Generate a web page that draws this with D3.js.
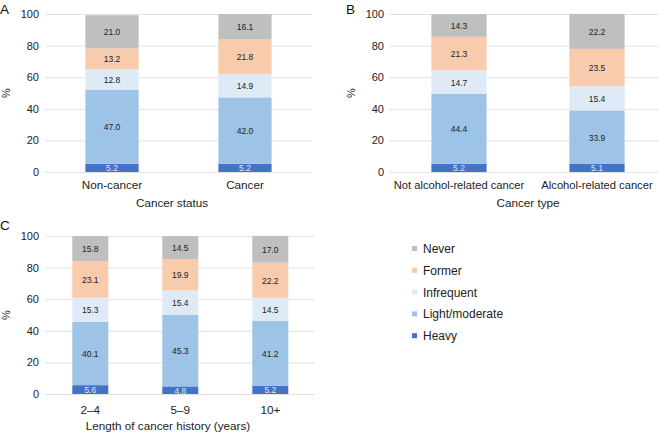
<!DOCTYPE html>
<html>
<head>
<meta charset="utf-8">
<script src="https://cdn.jsdelivr.net/npm/d3@7"></script>
<style>
  body { margin: 0; background: #fff; }
  svg { font-family: "Liberation Sans", Arial, Helvetica, sans-serif; }
  .tick-label { font-size: 11px; fill: #222; }
  .val { font-size: 8.5px; text-anchor: middle; dominant-baseline: central; }
</style>
</head>
<body>
<svg id="chart" width="668" height="435"></svg>
<script>
const levels = ["Heavy", "Light/moderate", "Infrequent", "Former", "Never"];
const colors = ["#4472c4", "#9dc3e6", "#deebf7", "#f8cbad", "#bfbfbf"];
const legendOrder = ["Never", "Former", "Infrequent", "Light/moderate", "Heavy"];
const yTicks = [0, 20, 40, 60, 80, 100];

// panel A: cancer status
const catsA = ["Non-cancer", "Cancer"];
const heavyA = [5.2, 5.2];
const lightA = [47.0, 42.0];
const infreqA = [12.8, 14.9];
const formerA = [13.2, 21.8];
const neverA = [21.0, 16.1];

// panel B: cancer type
const catsB = ["Not alcohol-related cancer", "Alcohol-related cancer"];
const heavyB = [5.2, 5.1];
const lightB = [44.4, 33.9];
const infreqB = [14.7, 15.4];
const formerB = [21.3, 23.5];
const neverB = [14.3, 22.2];

// panel C: length of cancer history
const catsC = ["2\u20134", "5\u20139", "10+"];
const heavyC = [5.6, 4.8, 5.2];
const lightC = [40.1, 45.3, 41.2];
const infreqC = [15.3, 15.4, 14.5];
const formerC = [23.1, 19.9, 22.2];
const neverC = [15.8, 14.5, 17.0];

const svg = d3.select("#chart");
const color = d3.scaleOrdinal().domain(levels).range(colors);

function drawPanel(o) {
  const rows = o.cats.map((c, i) => ({
    cat: c,
    "Heavy": o.series[0][i],
    "Light/moderate": o.series[1][i],
    "Infrequent": o.series[2][i],
    "Former": o.series[3][i],
    "Never": o.series[4][i]
  }));
  const stacked = d3.stack().keys(levels)(rows);

  const y = d3.scaleLinear().domain([0, 100]).range([o.y0, o.y1]);
  const x = d3.scaleBand().domain(o.cats).range(o.xr)
    .paddingInner(o.pad).paddingOuter(o.pad / 2);

  const g = svg.append("g");

  // gridlines
  g.selectAll(".grid").data(yTicks).join("line")
    .attr("x1", o.gx[0]).attr("x2", o.gx[1])
    .attr("y1", d => y(d) + 0.5).attr("y2", d => y(d) + 0.5)
    .attr("stroke", "#e2e2e2").attr("stroke-width", 1);

  // y axis labels
  g.selectAll(".ytl").data(yTicks).join("text")
    .attr("class", "tick-label")
    .attr("x", o.ylabX).attr("y", d => y(d))
    .attr("text-anchor", "end").attr("dominant-baseline", "central")
    .text(d => d);

  // bars
  const layer = g.selectAll(".layer").data(stacked).join("g")
    .attr("fill", d => color(d.key));
  layer.selectAll("rect").data(d => d).join("rect")
    .attr("x", d => x(d.data.cat))
    .attr("width", x.bandwidth())
    .attr("y", d => y(d[1]))
    .attr("height", d => y(d[0]) - y(d[1]));

  // value labels
  stacked.forEach(s => {
    g.selectAll(null).data(s).join("text")
      .attr("class", "val")
      .attr("x", d => x(d.data.cat) + x.bandwidth() / 2)
      .attr("y", d => (y(d[0]) + y(d[1])) / 2 + 0.5)
      .attr("fill", s.key === "Heavy" ? "#dfe6f3" : "#222")
      .text(d => (d[1] - d[0]).toFixed(1));
  });

  // category labels
  g.selectAll(".cat").data(o.cats).join("text")
    .attr("x", d => x(d) + x.bandwidth() / 2)
    .attr("y", o.catY)
    .attr("text-anchor", "middle")
    .attr("font-size", o.catSize).attr("fill", "#222")
    .text(d => d);

  // axis title
  g.append("text")
    .attr("x", o.titleX)
    .attr("y", o.titleY)
    .attr("text-anchor", "middle")
    .attr("font-size", 11.7).attr("fill", "#222")
    .text(o.title);

  // % label
  g.append("text")
    .attr("transform", `translate(${o.pctX},${(o.y0 + o.y1) / 2}) rotate(-90)`)
    .attr("text-anchor", "middle")
    .attr("font-size", 11).attr("fill", "#222")
    .text("%");

  // panel letter
  g.append("text")
    .attr("x", o.letterX).attr("y", o.letterY)
    .attr("font-size", 13.5).attr("fill", "#111")
    .text(o.letter);
}

drawPanel({
  letter: "A", letterX: 0, letterY: 13.5,
  cats: catsA, series: [heavyA, lightA, infreqA, formerA, neverA],
  y0: 172, y1: 14, xr: [45.5, 311.5], pad: 0.6, gx: [45, 312], ylabX: 39,
  catY: 189, catSize: 11.7, title: "Cancer status", titleX: 172, titleY: 207, pctX: 10
});

drawPanel({
  letter: "B", letterX: 346, letterY: 13.5,
  cats: catsB, series: [heavyB, lightB, infreqB, formerB, neverB],
  y0: 172, y1: 14, xr: [390, 666], pad: 0.6, gx: [389, 659], ylabX: 384,
  catY: 189, catSize: 11.2, title: "Cancer type", titleX: 528, titleY: 207, pctX: 355
});

drawPanel({
  letter: "C", letterX: 0, letterY: 230,
  cats: catsC, series: [heavyC, lightC, infreqC, formerC, neverC],
  y0: 394, y1: 236, xr: [45.3, 315.3], pad: 0.6, gx: [45, 315], ylabX: 39,
  catY: 414, catSize: 11.7, title: "Length of cancer history (years)", titleX: 168, titleY: 430, pctX: 10
});

// legend
const legend = svg.append("g").attr("transform", "translate(412,249)");
const li = legend.selectAll("g").data(legendOrder).join("g")
  .attr("transform", (d, i) => `translate(0,${i * 21.8})`);
li.append("rect")
  .attr("x", 0).attr("y", -3).attr("width", 5).attr("height", 5)
  .attr("fill", d => color(d));
li.append("text")
  .attr("x", 11).attr("y", 0)
  .attr("dominant-baseline", "central")
  .attr("font-size", 12).attr("fill", "#222")
  .text(d => d);
</script>
</body>
</html>
